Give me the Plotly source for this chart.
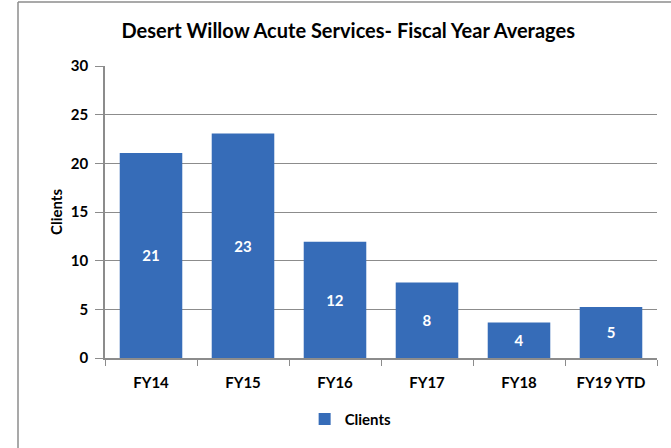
import plotly.graph_objects as go

categories = ["FY14", "FY15", "FY16", "FY17", "FY18", "FY19 YTD"]
clients = [21.07, 23.06, 11.95, 7.75, 3.65, 5.25]
labels = ["21", "23", "12", "8", "4", "5"]
y_ticks = [0, 5, 10, 15, 20, 25, 30]

FONT = "Lato, Open Sans, sans-serif"

fig = go.Figure()
fig.add_trace(go.Bar(
    x=categories,
    y=clients,
    name="Clients",
    text=labels,
    textposition="inside",
    insidetextanchor="middle",
    textangle=0,
    textfont=dict(family=FONT, size=15, color="white", weight="bold"),
    marker=dict(color="#366cb8", line=dict(width=0)),
    hoverinfo="x+y",
))

fig.update_layout(
    width=671, height=448,
    paper_bgcolor="white", plot_bgcolor="white",
    margin=dict(l=105, r=14, t=66, b=90),
    bargap=0.32,
    title=dict(text="<b>Desert Willow Acute Services- Fiscal Year Averages</b>",
               x=0.519, xref="container", xanchor="center",
               y=0.93, yref="container", yanchor="middle",
               font=dict(family=FONT, size=20, color="black")),
    font=dict(family=FONT, color="black"),
    showlegend=True,
    legend=dict(orientation="h", x=0.445, xanchor="center", xref="paper",
                y=-0.21, yanchor="middle",
                font=dict(family=FONT, size=15, color="black", weight="bold"),
                itemwidth=30),
)

fig.update_yaxes(
    range=[0, 30], tickvals=y_ticks, showgrid=True, gridcolor="#8c8c8c", gridwidth=1,
    showline=True, linecolor="#8c8c8c", linewidth=1.5,
    ticks="outside", ticklen=8, tickcolor="#8c8c8c", ticklabelstandoff=4,
    tickfont=dict(family=FONT, size=15, color="black", weight="bold"),
    title=dict(text="<b>Clients</b>", font=dict(family=FONT, size=15, color="black"), standoff=5),
    zeroline=False,
)
fig.update_xaxes(
    showline=True, linecolor="#8c8c8c", linewidth=1.5,
    ticks="outside", ticklen=6, tickcolor="#8c8c8c", tickson="boundaries",
    ticklabelstandoff=10,
    tickfont=dict(family=FONT, size=15, color="black", weight="bold"),
    showgrid=False,
)

# outer chart frame (left and top edges)
fig.add_shape(type="line", xref="paper", yref="paper",
              x0=(18 - 105) / 552, x1=(18 - 105) / 552,
              y0=(358 - 2) / 292, y1=(358 - 450) / 292,
              line=dict(color="#8c8c8c", width=1.5))
fig.add_shape(type="line", xref="paper", yref="paper",
              x0=(18 - 105) / 552, x1=(680 - 105) / 552,
              y0=(358 - 2) / 292, y1=(358 - 2) / 292,
              line=dict(color="#8c8c8c", width=1.5))

fig.write_html("out.html", config={"displayModeBar": False},
               post_script="document.body.style.margin='0';")
